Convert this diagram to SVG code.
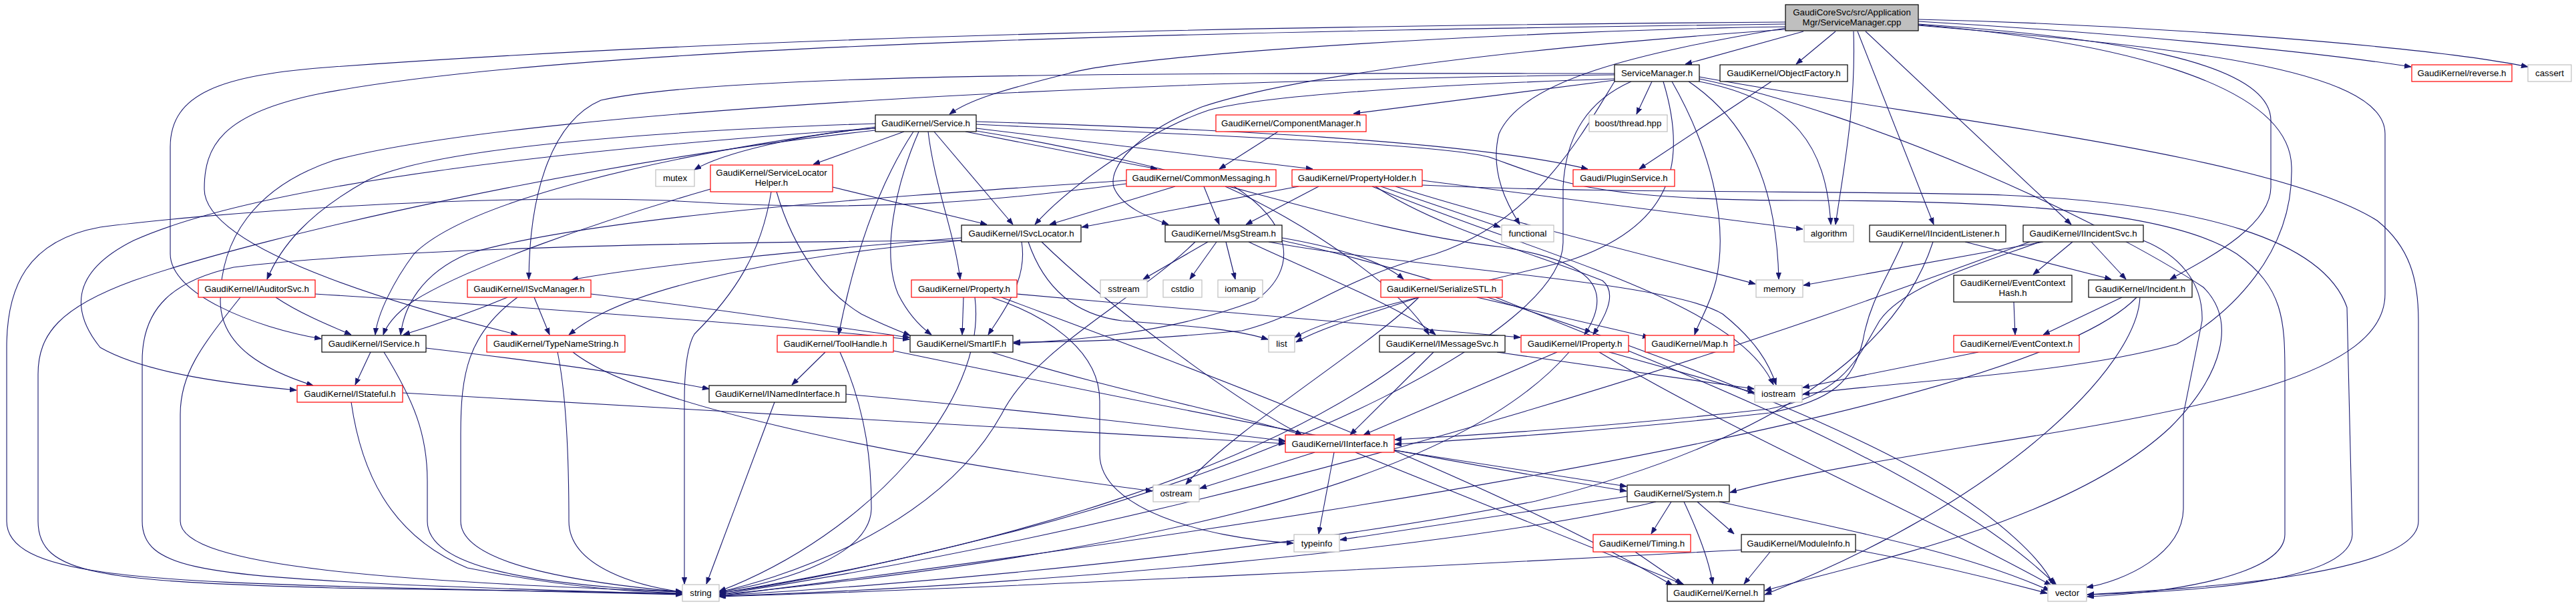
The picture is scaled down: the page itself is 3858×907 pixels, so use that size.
<svg xmlns="http://www.w3.org/2000/svg" width="3858" height="907" viewBox="0 0 3858 907">
<defs>
<marker id="a" markerUnits="userSpaceOnUse" markerWidth="11" markerHeight="8" refX="10" refY="3.75" orient="auto">
<path d="M0,0 L10,3.75 L0,7.5 z" fill="#191970" stroke="#191970" stroke-width="0.8"/>
</marker>
<style>
rect{fill:#fff;stroke:#000;stroke-width:1.2}
.r rect{stroke:#ff0000}
.g rect{stroke:#bfbfbf}
.root rect{fill:#bfbfbf}
text{font-family:"Liberation Sans",Arial,Helvetica,sans-serif;font-size:13.3px;text-anchor:middle;fill:#000}
#edges path{fill:none;stroke:#191970;stroke-width:1.1;marker-end:url(#a)}
</style>
</defs>
<rect x="0" y="0" width="3858" height="907" style="fill:#fff;stroke:none"/>
<g id="edges">
<path d="M2701,47 L2524,96"/>
<path d="M2749,47 L2690,96"/>
<path d="M2776,47 C2780,160 2760,260 2749,336"/>
<path d="M2782,47 L2896,336"/>
<path d="M2794,47 L3102,336"/>
<path d="M2873,32 C3150,48 3450,75 3611,100"/>
<path d="M2873,29 C3250,38 3650,72 3786,100"/>
<path d="M2873,36 C3150,55 3400,90 3401,180 L3401,280 C3401,340 3300,390 3250,418"/>
<path d="M2873,38 C3250,70 3572,100 3572,200 L3572,440 C3572,560 3320,610 2950,668 C2750,700 2660,718 2591,737"/>
<path d="M2873,37 C3150,60 3430,120 3432,250 C3435,380 3340,470 3260,515 C3100,560 2850,570 2700,590"/>
<path d="M2674,40 C2300,45 1700,80 1600,110 C1500,135 1450,150 1422,171"/>
<path d="M2674,42 C2450,80 2280,120 2245,200 C2230,260 2260,310 2276,336"/>
<path d="M2674,44 C2300,70 1950,110 1800,160 C1700,200 1660,250 1668,280 C1680,310 1720,325 1750,336"/>
<path d="M2674,33 C2000,38 1200,50 500,100 C330,112 255,140 255,220 L255,380 C255,440 380,490 481,507"/>
<path d="M2674,36 C2000,45 900,60 480,140 C330,170 306,220 306,283 C306,380 650,470 775,501"/>
<path d="M2418,120 L2027,170"/>
<path d="M2474,122 L2451,171"/>
<path d="M2529,122 C2600,170 2660,250 2664,418"/>
<path d="M2545,122 C2690,150 2735,220 2742,336"/>
<path d="M2504,122 C2560,220 2590,330 2570,420 C2560,460 2545,480 2538,501"/>
<path d="M2491,122 C2530,250 2500,340 2350,390 C2150,440 2000,470 1939,505"/>
<path d="M2443,122 C2380,150 2345,200 2341,280 L2341,363 C2340,500 1900,700 1500,800 C1300,850 1150,880 1077,887"/>
<path d="M2545,118 C2800,170 3150,330 3300,430 C3350,480 3330,560 3250,640 C3100,780 2800,840 2643,884"/>
<path d="M2545,115 C2900,180 3400,230 3560,330 C3610,370 3622,420 3622,480 L3622,780 C3622,860 3300,880 3126,890"/>
<path d="M2418,110 C1900,110 1100,105 900,150 C830,180 793,280 792,418"/>
<path d="M2418,112 C1800,118 800,160 500,240 C380,280 330,360 330,450 C330,520 400,555 469,577"/>
<path d="M2418,118 C2200,125 1900,140 1810,165 C1720,195 1600,280 1550,336"/>
<path d="M2418,122 C2370,200 2300,330 2150,380 C2000,420 1960,470 1860,495 C1700,510 1600,512 1518,512"/>
<path d="M2653,122 L2455,253"/>
<path d="M1311,192 C1200,200 1080,230 1040,254"/>
<path d="M1354,197 L1218,246"/>
<path d="M1399,197 L1517,336"/>
<path d="M1390,197 C1400,280 1430,350 1438,418"/>
<path d="M1446,197 L1733,253"/>
<path d="M1462,192 L1966,253"/>
<path d="M1462,182 C1800,192 2200,210 2378,253"/>
<path d="M1462,186 C1850,205 2150,215 2230,235 C2330,270 2380,300 2700,300 C3000,300 3250,315 3350,380 C3420,430 3422,480 3422,560 L3422,800 C3422,860 3250,888 3126,893"/>
<path d="M1376,197 C1340,280 1320,380 1345,440 C1360,470 1380,490 1395,501"/>
<path d="M1368,197 C1300,300 1270,430 1256,501"/>
<path d="M1311,185 C1000,195 650,220 550,270 C460,320 420,370 400,418"/>
<path d="M1311,190 C1000,230 700,300 620,380 C590,420 565,470 562,501"/>
<path d="M1311,192 C900,220 400,270 200,360 C100,410 110,470 150,520 C220,560 350,575 444,584"/>
<path d="M1462,196 C1800,250 2000,340 2250,370 C2380,390 2420,430 2373,501"/>
<path d="M1311,195 C900,240 400,350 200,420 C90,460 57,500 57,560 L57,780 C57,860 150,870 500,880 C800,885 950,887 1022,888"/>
<path d="M1914,197 L1826,253"/>
<path d="M1247,280 L1478,336"/>
<path d="M1163,287 C1190,380 1240,440 1290,470 C1320,485 1340,493 1363,502"/>
<path d="M1064,283 C900,330 700,400 620,450 C590,470 578,490 574,501"/>
<path d="M1155,287 C1140,380 1100,440 1040,500 C1028,520 1025,560 1025,600 L1025,874"/>
<path d="M1760,279 L1572,336"/>
<path d="M1803,279 L1826,336"/>
<path d="M1835,279 C1950,330 2100,430 2140,501"/>
<path d="M1848,279 C1930,330 1950,400 1880,450 C1750,500 1600,510 1518,514"/>
<path d="M1687,270 C1400,290 900,320 700,380 C630,410 605,460 600,501"/>
<path d="M1687,275 C1500,300 1300,320 1000,300 C700,290 300,320 150,340 C40,360 10,430 10,520 L10,780 C10,860 200,870 600,880 C850,886 980,888 1022,890"/>
<path d="M1945,279 L1620,340"/>
<path d="M1975,279 L1866,336"/>
<path d="M2068,279 L2247,340"/>
<path d="M2130,270 L2700,343"/>
<path d="M2130,277 C2400,290 2800,285 3000,292 C3300,305 3480,360 3515,460 L3523,800 C3520,870 3300,885 3126,890"/>
<path d="M2060,279 C2150,340 2300,380 2400,420 C2425,440 2400,480 2386,501"/>
<path d="M2090,279 C2250,330 2500,390 2629,425"/>
<path d="M2055,279 C2300,380 2600,450 2656,576"/>
<path d="M1440,356 C1200,375 950,400 856,419"/>
<path d="M1440,360 C1200,380 1000,420 900,470 C870,485 860,495 852,501"/>
<path d="M1530,362 C1540,420 1500,470 1480,501"/>
<path d="M1540,362 C1560,420 1600,470 1680,480 C1780,488 1850,492 1899,508"/>
<path d="M1560,362 C1650,450 1850,600 1950,651"/>
<path d="M1440,360 C1100,362 600,370 350,400 C260,420 213,460 213,540 L213,780 C213,850 300,860 600,875 C850,885 980,888 1022,889"/>
<path d="M1809,362 L1712,418"/>
<path d="M1822,362 L1782,418"/>
<path d="M1836,362 L1850,418"/>
<path d="M1920,356 C2000,370 2070,390 2102,418"/>
<path d="M1870,362 C1950,400 2100,460 2150,501"/>
<path d="M1790,362 C1700,450 1550,520 1500,620 C1400,800 1150,870 1077,886"/>
<path d="M1920,360 C2200,420 2700,600 2900,720 C3000,780 3060,840 3075,875"/>
<path d="M1900,362 C2100,400 2500,420 2580,470 C2630,510 2650,545 2660,576"/>
<path d="M2125,445 C2050,470 1980,490 1941,512"/>
<path d="M2125,445 C2050,520 1850,640 1776,725"/>
<path d="M2212,445 L2470,505"/>
<path d="M2240,445 C2500,550 2900,700 3080,876"/>
<path d="M1443,445 L1441,501"/>
<path d="M1523,440 C1800,465 2100,490 2277,505"/>
<path d="M1460,445 C1480,600 1300,800 1077,885"/>
<path d="M1485,445 C1560,470 1647,520 1647,600 L1647,680 C1647,760 1800,805 1937,813"/>
<path d="M1500,445 C1700,520 2200,700 2505,876"/>
<path d="M413,445 C450,470 500,490 526,501"/>
<path d="M360,445 C300,520 270,560 270,620 L270,780 C270,850 600,870 1022,886"/>
<path d="M472,440 C800,460 1200,490 1362,508"/>
<path d="M760,445 C700,470 640,490 604,501"/>
<path d="M800,445 L823,501"/>
<path d="M775,445 C700,500 690,560 690,650 L690,780 C690,850 900,875 1022,886"/>
<path d="M885,440 C1100,465 1250,490 1362,505"/>
<path d="M555,527 L532,576"/>
<path d="M575,527 C620,600 640,650 640,720 L640,780 C640,850 800,875 1022,886"/>
<path d="M638,521 C800,540 950,560 1062,582"/>
<path d="M835,527 C850,600 852,700 852,780 C852,850 960,878 1022,886"/>
<path d="M858,527 C950,600 1300,680 1726,735"/>
<path d="M1236,527 L1186,576"/>
<path d="M1258,527 C1300,620 1305,700 1305,760 C1305,830 1180,870 1077,886"/>
<path d="M1338,525 C1700,600 2100,680 2436,735"/>
<path d="M1485,527 C1650,580 1850,620 1950,651"/>
<path d="M2147,527 L2022,651"/>
<path d="M2242,527 L2627,582"/>
<path d="M2120,527 C1900,700 1500,820 1077,888"/>
<path d="M2332,527 L2042,651"/>
<path d="M2410,527 L2628,588"/>
<path d="M2350,527 C2200,700 1800,820 1077,890"/>
<path d="M2395,527 C2600,650 2900,780 3072,876"/>
<path d="M2963,527 L2700,580"/>
<path d="M3016,452 L3018,501"/>
<path d="M3104,362 L3045,411"/>
<path d="M3132,362 L3184,418"/>
<path d="M3055,362 C2950,400 2850,430 2815,480 C2780,540 2760,590 2650,612 C2400,640 2200,652 2089,658"/>
<path d="M3210,360 C3260,380 3300,420 3298,480 L3270,620 L3270,760 C3270,830 3180,870 3125,879"/>
<path d="M3040,362 C2800,450 2000,750 1077,890"/>
<path d="M3060,362 C2900,390 2800,410 2701,427"/>
<path d="M2943,362 L3162,418"/>
<path d="M2850,362 C2830,410 2800,450 2790,510 C2775,570 2745,600 2650,618 C2400,646 2200,658 2089,665"/>
<path d="M2895,362 C2850,500 2700,650 2300,750 C1900,830 1300,880 1077,891"/>
<path d="M3178,445 L3060,501"/>
<path d="M3200,445 C3100,550 2600,700 1077,892"/>
<path d="M3205,445 C3200,550 3000,750 2643,890"/>
<path d="M1969,677 L1797,731"/>
<path d="M1998,677 L1975,799"/>
<path d="M2088,674 L2436,728"/>
<path d="M2030,677 L2522,875"/>
<path d="M1267,590 C1600,620 1800,645 1925,660"/>
<path d="M1160,602 L1058,874"/>
<path d="M603,588 C1000,610 1500,640 1925,664"/>
<path d="M526,602 C540,700 580,800 700,850 C850,880 950,886 1022,888"/>
<path d="M2503,751 L2473,799"/>
<path d="M2542,751 L2597,799"/>
<path d="M2522,751 C2545,800 2560,840 2565,874"/>
<path d="M2480,751 C2200,820 1500,880 1077,892"/>
<path d="M2437,743 L2007,808"/>
<path d="M2575,751 C2800,800 2950,830 3070,884"/>
<path d="M2449,826 L2519,874"/>
<path d="M2651,826 L2612,874"/>
<path d="M2608,823 C2200,845 1500,880 1077,893"/>
<path d="M2779,823 C2900,845 3000,870 3066,888"/>
</g>
<g id="node_root" class="root"><rect x="2674" y="7" width="199" height="39"/><text x="2773.5" y="23">GaudiCoreSvc/src/Application</text><text x="2773.5" y="38">Mgr/ServiceManager.cpp</text></g>
<g id="node_ServiceManager_h"><rect x="2418" y="97" width="127" height="25"/><text x="2481.5" y="114.2">ServiceManager.h</text></g>
<g id="node_ObjectFactory_h"><rect x="2576" y="97" width="191" height="25"/><text x="2671.5" y="114.2">GaudiKernel/ObjectFactory.h</text></g>
<g id="node_reverse_h" class="r"><rect x="3612" y="97" width="150" height="25"/><text x="3687" y="114.2">GaudiKernel/reverse.h</text></g>
<g id="node_cassert" class="g"><rect x="3786" y="97" width="65" height="25"/><text x="3818.5" y="114.2">cassert</text></g>
<g id="node_Service_h"><rect x="1311" y="172" width="151" height="25"/><text x="1386.5" y="189.2">GaudiKernel/Service.h</text></g>
<g id="node_ComponentManager_h" class="r"><rect x="1821" y="172" width="225" height="25"/><text x="1933.5" y="189.2">GaudiKernel/ComponentManager.h</text></g>
<g id="node_boost_thread" class="g"><rect x="2380" y="172" width="117" height="25"/><text x="2438.5" y="189.2">boost/thread.hpp</text></g>
<g id="node_mutex" class="g"><rect x="982" y="254" width="58" height="25"/><text x="1011" y="271.2">mutex</text></g>
<g id="node_ServiceLocatorHelper_h" class="r"><rect x="1064" y="247" width="183" height="40"/><text x="1155.5" y="263">GaudiKernel/ServiceLocator</text><text x="1155.5" y="278">Helper.h</text></g>
<g id="node_CommonMessaging_h" class="r"><rect x="1687" y="254" width="224" height="25"/><text x="1799" y="271.2">GaudiKernel/CommonMessaging.h</text></g>
<g id="node_PropertyHolder_h" class="r"><rect x="1935" y="254" width="195" height="25"/><text x="2032.5" y="271.2">GaudiKernel/PropertyHolder.h</text></g>
<g id="node_PluginService_h" class="r"><rect x="2356" y="254" width="152" height="25"/><text x="2432" y="271.2">Gaudi/PluginService.h</text></g>
<g id="node_ISvcLocator_h"><rect x="1440" y="337" width="179" height="25"/><text x="1529.5" y="354.2">GaudiKernel/ISvcLocator.h</text></g>
<g id="node_MsgStream_h"><rect x="1745" y="337" width="175" height="25"/><text x="1832.5" y="354.2">GaudiKernel/MsgStream.h</text></g>
<g id="node_functional" class="g"><rect x="2249" y="337" width="78" height="25"/><text x="2288" y="354.2">functional</text></g>
<g id="node_algorithm" class="g"><rect x="2702" y="337" width="74" height="25"/><text x="2739" y="354.2">algorithm</text></g>
<g id="node_IIncidentListener_h"><rect x="2800" y="337" width="204" height="25"/><text x="2902" y="354.2">GaudiKernel/IIncidentListener.h</text></g>
<g id="node_IIncidentSvc_h"><rect x="3030" y="337" width="180" height="25"/><text x="3120" y="354.2">GaudiKernel/IIncidentSvc.h</text></g>
<g id="node_IAuditorSvc_h" class="r"><rect x="297" y="419" width="175" height="26"/><text x="384.5" y="436.7">GaudiKernel/IAuditorSvc.h</text></g>
<g id="node_ISvcManager_h" class="r"><rect x="700" y="419" width="185" height="26"/><text x="792.5" y="436.7">GaudiKernel/ISvcManager.h</text></g>
<g id="node_Property_h" class="r"><rect x="1365" y="419" width="158" height="26"/><text x="1444" y="436.7">GaudiKernel/Property.h</text></g>
<g id="node_sstream" class="g"><rect x="1648" y="419" width="70" height="26"/><text x="1683" y="436.7">sstream</text></g>
<g id="node_cstdio" class="g"><rect x="1742" y="419" width="58" height="26"/><text x="1771" y="436.7">cstdio</text></g>
<g id="node_iomanip" class="g"><rect x="1824" y="419" width="67" height="26"/><text x="1857.5" y="436.7">iomanip</text></g>
<g id="node_SerializeSTL_h" class="r"><rect x="2068" y="419" width="182" height="26"/><text x="2159" y="436.7">GaudiKernel/SerializeSTL.h</text></g>
<g id="node_memory" class="g"><rect x="2630" y="419" width="70" height="26"/><text x="2665" y="436.7">memory</text></g>
<g id="node_EventContextHash_h"><rect x="2926" y="412" width="177" height="40"/><text x="3014.5" y="428">GaudiKernel/EventContext</text><text x="3014.5" y="443">Hash.h</text></g>
<g id="node_Incident_h"><rect x="3128" y="419" width="155" height="26"/><text x="3205.5" y="436.7">GaudiKernel/Incident.h</text></g>
<g id="node_IService_h"><rect x="482" y="502" width="156" height="25"/><text x="560" y="519.2">GaudiKernel/IService.h</text></g>
<g id="node_TypeNameString_h" class="r"><rect x="729" y="502" width="207" height="25"/><text x="832.5" y="519.2">GaudiKernel/TypeNameString.h</text></g>
<g id="node_ToolHandle_h" class="r"><rect x="1164" y="502" width="174" height="25"/><text x="1251" y="519.2">GaudiKernel/ToolHandle.h</text></g>
<g id="node_SmartIF_h"><rect x="1363" y="502" width="154" height="25"/><text x="1440" y="519.2">GaudiKernel/SmartIF.h</text></g>
<g id="node_list" class="g"><rect x="1900" y="502" width="39" height="25"/><text x="1919.5" y="519.2">list</text></g>
<g id="node_IMessageSvc_h"><rect x="2066" y="502" width="188" height="25"/><text x="2160" y="519.2">GaudiKernel/IMessageSvc.h</text></g>
<g id="node_IProperty_h" class="r"><rect x="2278" y="502" width="161" height="25"/><text x="2358.5" y="519.2">GaudiKernel/IProperty.h</text></g>
<g id="node_Map_h" class="r"><rect x="2464" y="502" width="133" height="25"/><text x="2530.5" y="519.2">GaudiKernel/Map.h</text></g>
<g id="node_EventContext_h" class="r"><rect x="2926" y="502" width="188" height="25"/><text x="3020" y="519.2">GaudiKernel/EventContext.h</text></g>
<g id="node_IStateful_h" class="r"><rect x="445" y="577" width="158" height="25"/><text x="524" y="594.2">GaudiKernel/IStateful.h</text></g>
<g id="node_INamedInterface_h"><rect x="1062" y="577" width="205" height="25"/><text x="1164.5" y="594.2">GaudiKernel/INamedInterface.h</text></g>
<g id="node_iostream" class="g"><rect x="2628" y="577" width="71" height="25"/><text x="2663.5" y="594.2">iostream</text></g>
<g id="node_IInterface_h" class="r"><rect x="1925" y="651" width="163" height="26"/><text x="2006.5" y="668.7">GaudiKernel/IInterface.h</text></g>
<g id="node_ostream" class="g"><rect x="1727" y="726" width="69" height="25"/><text x="1761.5" y="743.2">ostream</text></g>
<g id="node_System_h"><rect x="2437" y="726" width="153" height="25"/><text x="2513.5" y="743.2">GaudiKernel/System.h</text></g>
<g id="node_typeinfo" class="g"><rect x="1938" y="800" width="68" height="26"/><text x="1972" y="817.7">typeinfo</text></g>
<g id="node_Timing_h" class="r"><rect x="2386" y="800" width="146" height="26"/><text x="2459" y="817.7">GaudiKernel/Timing.h</text></g>
<g id="node_ModuleInfo_h"><rect x="2608" y="800" width="171" height="26"/><text x="2693.5" y="817.7">GaudiKernel/ModuleInfo.h</text></g>
<g id="node_string" class="g"><rect x="1022" y="875" width="55" height="25"/><text x="1049.5" y="892.2">string</text></g>
<g id="node_Kernel_h"><rect x="2497" y="875" width="145" height="25"/><text x="2569.5" y="892.2">GaudiKernel/Kernel.h</text></g>
<g id="node_vector" class="g"><rect x="3067" y="875" width="58" height="25"/><text x="3096" y="892.2">vector</text></g>
</svg>
